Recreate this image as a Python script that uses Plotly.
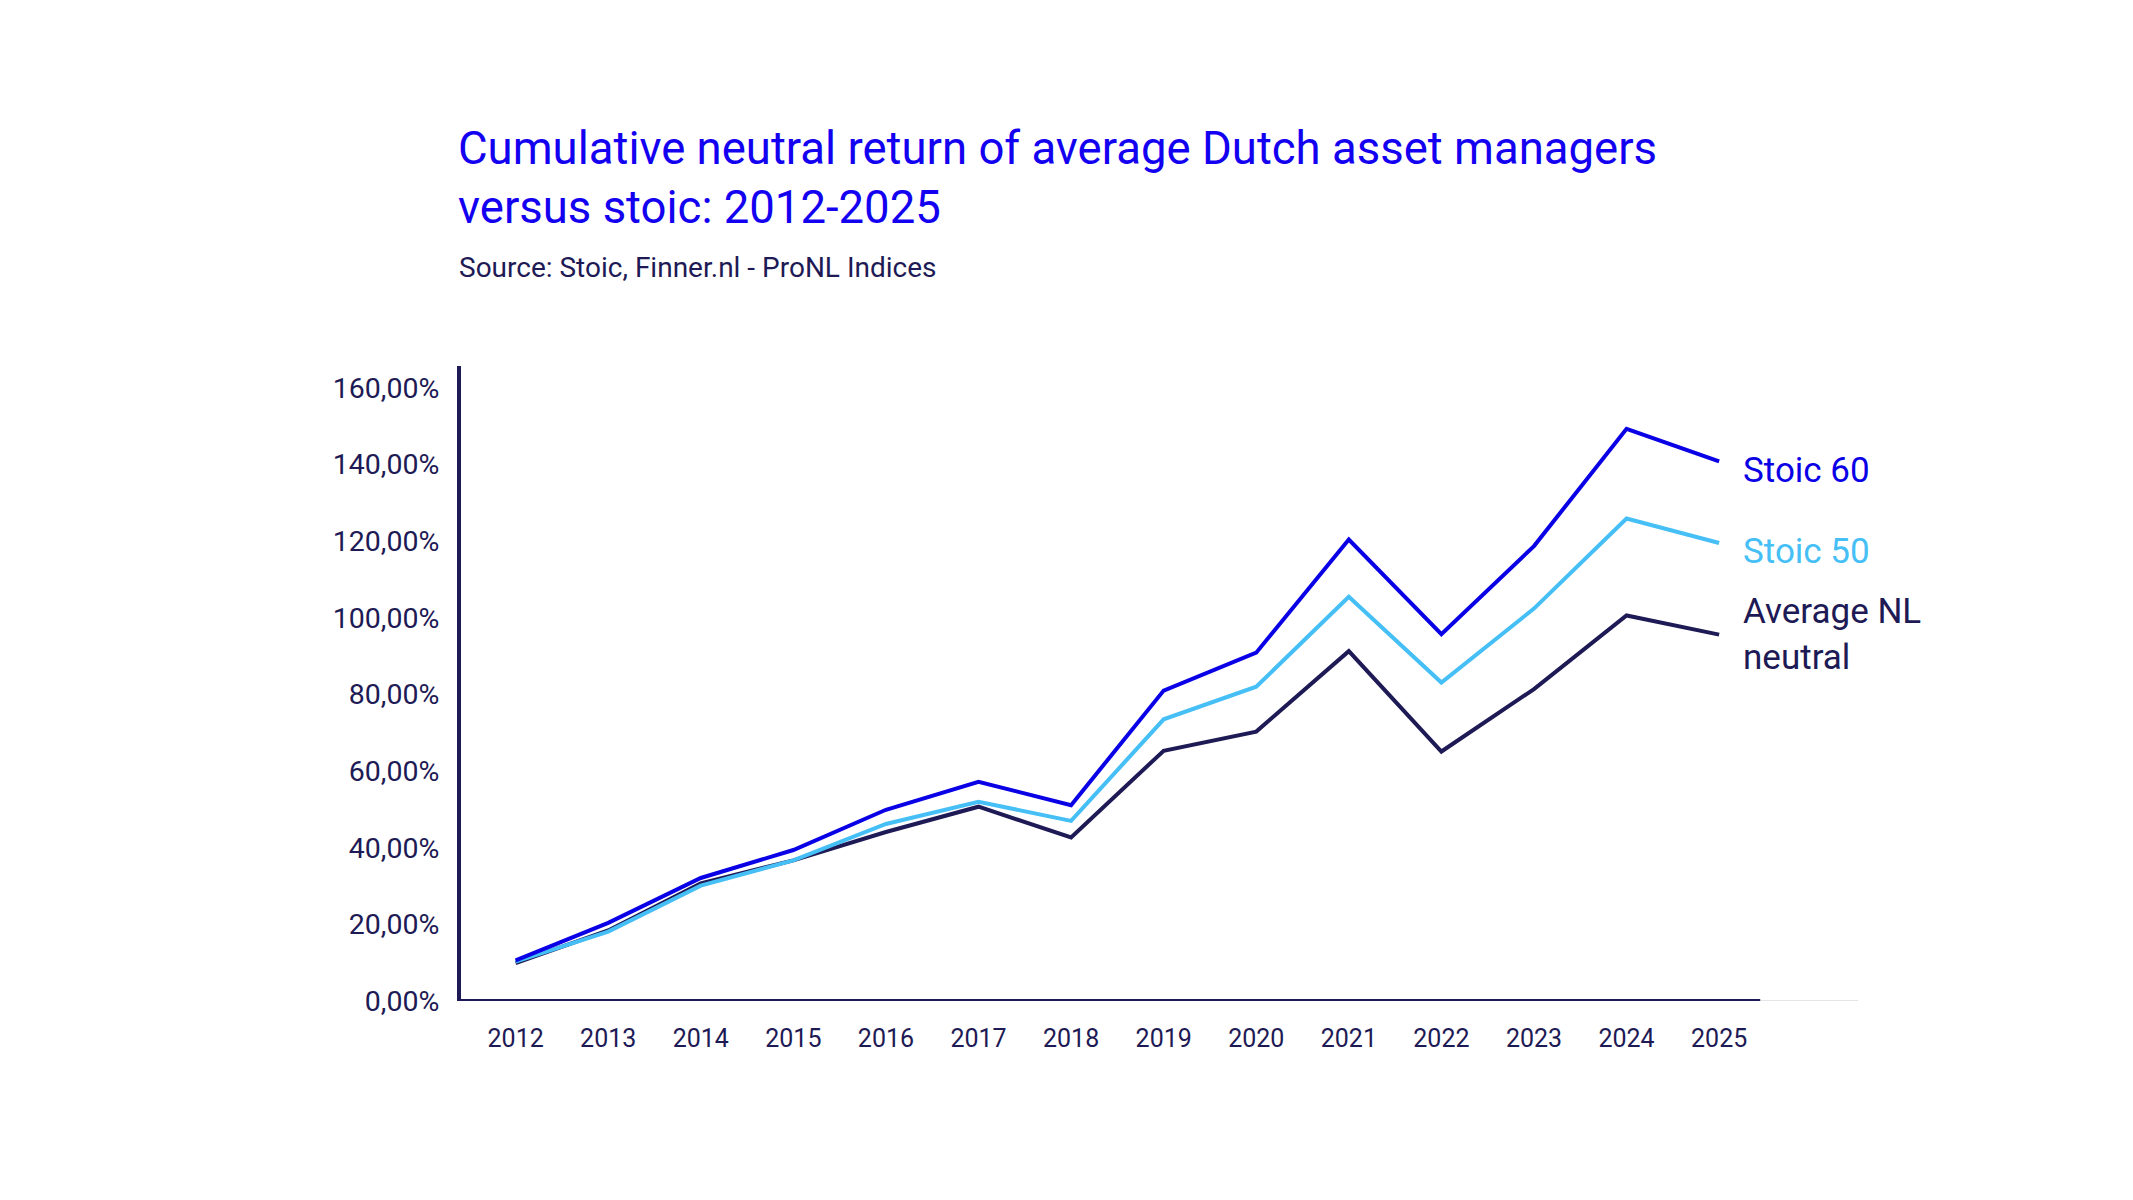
import plotly.graph_objects as go

years = list(range(2012, 2026))
stoic60 = [10.6, 20.4, 32.1, 39.4, 49.9, 57.2, 51.1, 81.0, 90.9, 120.4, 95.7, 118.7, 149.3, 140.8]
stoic50 = [10.3, 18.1, 30.1, 36.7, 46.2, 52.0, 47.0, 73.5, 82.0, 105.5, 83.1, 102.4, 125.9, 119.5]
avg_nl = [9.9, 18.4, 30.7, 36.7, 44.1, 50.7, 42.7, 65.3, 70.3, 91.3, 65.1, 81.4, 100.6, 95.6]
y_ticks = [0, 20, 40, 60, 80, 100, 120, 140, 160]
y_tick_labels = [f"{v},00%" for v in y_ticks]

series_names = ["Stoic 60", "Stoic 50", "Average NL<br>neutral"]
series_colors = ["#0A00E6", "#45BFF5", "#1E1A55"]
series_values = [stoic60, stoic50, avg_nl]
label_yshift = [-9, -8, 0]

NAVY = "#1E1A55"
FONT = "Roboto"

fig = go.Figure()
for name, col, vals in reversed(list(zip(series_names, series_colors, series_values))):
    fig.add_trace(go.Scatter(x=years, y=vals, mode="lines", name=name,
                             line=dict(color=col, width=4), showlegend=False,
                             hoverinfo="skip"))

for name, col, vals, ys in zip(series_names, series_colors, series_values, label_yshift):
    fig.add_annotation(x=years[-1], y=vals[-1], text=name, xref="x", yref="y",
                       showarrow=False, xanchor="left", yanchor="middle",
                       xshift=22, yshift=ys, align="left",
                       font=dict(family=FONT, size=35, color=col))

fig.add_shape(type="line", xref="paper", yref="y", x0=0, x1=0.93, y0=0, y1=0,
              line=dict(color=NAVY, width=4), layer="above")
fig.add_shape(type="line", xref="paper", yref="y", x0=0.93, x1=1.0, y0=0, y1=0,
              line=dict(color="#E3E3E8", width=2), layer="below")

fig.update_layout(
    width=2133, height=1200,
    paper_bgcolor="white", plot_bgcolor="white",
    margin=dict(l=461, r=275, t=366, b=199),
    font=dict(family=FONT, color=NAVY),
    title=dict(text="Cumulative neutral return of average Dutch asset managers<br>versus stoic: 2012-2025",
               x=458 / 2133, xanchor="left", xref="container", y=1 - 164 / 1200, yanchor="top",
               font=dict(family=FONT, size=45.5, color="#1400F0")),
    annotations=list(fig.layout.annotations) + [
        dict(text="Source: Stoic, Finner.nl - ProNL Indices", xref="paper", yref="paper",
             x=(457 - 461) / (2133 - 461 - 275), y=(1200 - 267 - 199) / (1200 - 366 - 199),
             xanchor="left", yanchor="middle", showarrow=False,
             font=dict(family=FONT, size=28, color=NAVY))
    ],
    xaxis=dict(range=[2011.41, 2026.5], tickvals=years, ticktext=[str(y) for y in years],
               showgrid=False, zeroline=False, showline=False, ticks="",
               tickfont=dict(family=FONT, size=25, color=NAVY), ticklabelstandoff=20),
    yaxis=dict(range=[0, 165.7], tickvals=y_ticks, ticktext=y_tick_labels,
               showgrid=False, zeroline=False, showline=True, linecolor=NAVY, linewidth=4,
               ticks="", tickfont=dict(family=FONT, size=28.5, color=NAVY), ticklabelstandoff=12),
)

fig.write_html("out.html", config={"displayModeBar": False},
               post_script="document.body.style.margin='0';")
